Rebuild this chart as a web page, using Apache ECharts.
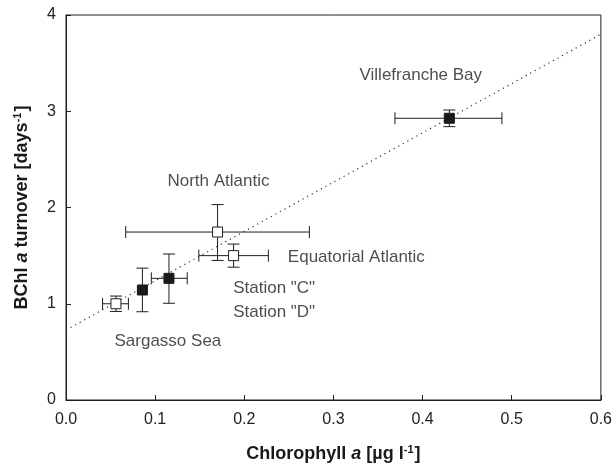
<!DOCTYPE html>
<html>
<head>
<meta charset="utf-8">
<script src="https://cdn.jsdelivr.net/npm/echarts@6/dist/echarts.min.js"></script>
<style>
  html, body { margin: 0; padding: 0; background: #fff; }
  #chart { width: 615px; height: 473px; }
</style>
</head>
<body>
<div id="chart"></div>
<script>
// ---- data ----
const xTicks = [0.0, 0.1, 0.2, 0.3, 0.4, 0.5, 0.6];
const yTicks = [0, 1, 2, 3, 4];

// open squares
const openX    = [0.056, 0.170, 0.188];
const openY    = [1.000, 1.745, 1.500];
const openXLo  = [0.041, 0.067, 0.149];
const openXHi  = [0.070, 0.273, 0.227];
const openYLo  = [0.920, 1.450, 1.380];
const openYHi  = [1.080, 2.030, 1.620];

// filled squares
const fillX    = [0.0857, 0.1155, 0.430];
const fillY    = [1.143, 1.264, 2.927];
const fillXLo  = [0.0857, 0.0957, 0.369];
const fillXHi  = [0.0857, 0.1360, 0.489];
const fillYLo  = [0.917, 1.005, 2.840];
const fillYHi  = [1.370, 1.517, 3.013];

// regression line end points
const trendX = [0.0, 0.6];
const trendY = [0.727, 3.80];

// annotations (centre of text in data units)
const labelText = ['Villefranche Bay', 'North Atlantic', 'Equatorial Atlantic', 'Station "C"', 'Station "D"', 'Sargasso Sea'];
const labelX    = [0.398, 0.171, 0.3257, 0.2335, 0.2335, 0.1143];
const labelY    = [3.377, 2.268, 1.482, 1.165, 0.915, 0.606];

// ---- build ----
const ink = '#1e1e1e';
const font = '"Liberation Sans", Arial, sans-serif';

function errData(xs, ys, xlo, xhi, ylo, yhi) {
  return xs.map((x, i) => [x, ys[i], xlo[i], xhi[i], ylo[i], yhi[i]]);
}
const allErr = errData(openX, openY, openXLo, openXHi, openYLo, openYHi)
  .concat(errData(fillX, fillY, fillXLo, fillXHi, fillYLo, fillYHi));

function renderErr(params, api) {
  const x = api.value(0), y = api.value(1);
  const xlo = api.value(2), xhi = api.value(3), ylo = api.value(4), yhi = api.value(5);
  const c = api.coord([x, y]);
  const pL = api.coord([xlo, y]), pR = api.coord([xhi, y]);
  const pB = api.coord([x, ylo]), pT = api.coord([x, yhi]);
  const cap = 6;
  const st = { stroke: ink, lineWidth: 1, fill: null };
  const kids = [];
  if (xhi > xlo) {
    kids.push({ type: 'line', shape: { x1: pL[0], y1: c[1], x2: pR[0], y2: c[1] }, style: st });
    kids.push({ type: 'line', shape: { x1: pL[0], y1: c[1] - cap, x2: pL[0], y2: c[1] + cap }, style: st });
    kids.push({ type: 'line', shape: { x1: pR[0], y1: c[1] - cap, x2: pR[0], y2: c[1] + cap }, style: st });
  }
  if (yhi > ylo) {
    kids.push({ type: 'line', shape: { x1: c[0], y1: pB[1], x2: c[0], y2: pT[1] }, style: st });
    kids.push({ type: 'line', shape: { x1: c[0] - cap, y1: pB[1], x2: c[0] + cap, y2: pB[1] }, style: st });
    kids.push({ type: 'line', shape: { x1: c[0] - cap, y1: pT[1], x2: c[0] + cap, y2: pT[1] }, style: st });
  }
  return { type: 'group', children: kids };
}

const chart = echarts.init(document.getElementById('chart'), null, { renderer: 'canvas' });
chart.setOption({
  animation: false,
  backgroundColor: '#fff',
  textStyle: { fontFamily: font },
  grid: { left: 66, right: 12, top: 15, bottom: 73, show: true, borderColor: ink, borderWidth: 1, backgroundColor: 'transparent' },
  xAxis: {
    type: 'value', min: 0, max: 0.6, interval: 0.1,
    axisLine: { show: true, lineStyle: { color: ink, width: 1 } },
    axisTick: { show: true, inside: true, length: 5, lineStyle: { color: ink } },
    splitLine: { show: false },
    axisLabel: { color: '#222', fontSize: 16, fontFamily: font, margin: 12,
      formatter: v => { const t = xTicks.find(k => Math.abs(k - v) < 1e-9); return t === undefined ? '' : t.toFixed(1); } },
    name: '{b|Chlorophyll }{i|a}{b| [µg l}{sup|-1}{b|]}',
    nameLocation: 'middle', nameGap: 44,
    nameTextStyle: {
      rich: {
        b: { fontSize: 18, fontWeight: 'bold', color: '#1a1a1a', fontFamily: font },
        i: { fontSize: 18, fontWeight: 'bold', fontStyle: 'italic', color: '#1a1a1a', fontFamily: font },
        sup: { fontSize: 11, fontWeight: 'bold', color: '#1a1a1a', fontFamily: font, verticalAlign: 'bottom', padding: [0, 1, 10, 0] }
      }
    }
  },
  yAxis: {
    type: 'value', min: 0, max: 4, interval: 1,
    axisLine: { show: true, lineStyle: { color: ink, width: 1 } },
    axisTick: { show: true, inside: true, length: 5, lineStyle: { color: ink } },
    splitLine: { show: false },
    axisLabel: { color: '#222', fontSize: 16, fontFamily: font, margin: 10,
      formatter: v => { const t = yTicks.find(k => Math.abs(k - v) < 1e-9); return t === undefined ? '' : String(t); } },
    name: '{b|BChl }{i|a}{b| turnover [days}{sup|-1}{b|]}',
    nameLocation: 'middle', nameGap: 33, nameRotate: 90,
    nameTextStyle: {
      rich: {
        b: { fontSize: 18, fontWeight: 'bold', color: '#1a1a1a', fontFamily: font },
        i: { fontSize: 18, fontWeight: 'bold', fontStyle: 'italic', color: '#1a1a1a', fontFamily: font },
        sup: { fontSize: 11, fontWeight: 'bold', color: '#1a1a1a', fontFamily: font, verticalAlign: 'bottom', padding: [0, 1, 10, 0] }
      }
    }
  },
  series: [
    {
      type: 'line', data: trendX.map((x, i) => [x, trendY[i]]),
      symbol: 'none', z: 1,
      lineStyle: { color: '#333', width: 1.2, type: [1.2, 4] }
    },
    {
      type: 'custom', renderItem: renderErr, data: allErr, z: 2,
      encode: { x: [0, 2, 3], y: [1, 4, 5] }
    },
    {
      type: 'scatter', data: openX.map((x, i) => [x, openY[i]]),
      symbol: 'rect', symbolSize: 10, z: 3,
      itemStyle: { color: '#fff', borderColor: ink, borderWidth: 1, opacity: 1 }
    },
    {
      type: 'scatter', data: fillX.map((x, i) => [x, fillY[i]]),
      symbol: 'rect', symbolSize: 10, z: 3,
      itemStyle: { color: '#1a1a1a', borderColor: '#1a1a1a', borderWidth: 1, opacity: 1 }
    },
    {
      type: 'scatter', z: 4, symbolSize: 0, silent: true,
      data: labelText.map((t, i) => ({ value: [labelX[i], labelY[i]], name: t })),
      label: { show: true, position: 'inside', formatter: p => p.name, color: '#222', fontSize: 17, fontFamily: font }
    }
  ]
});
</script>
</body>
</html>
